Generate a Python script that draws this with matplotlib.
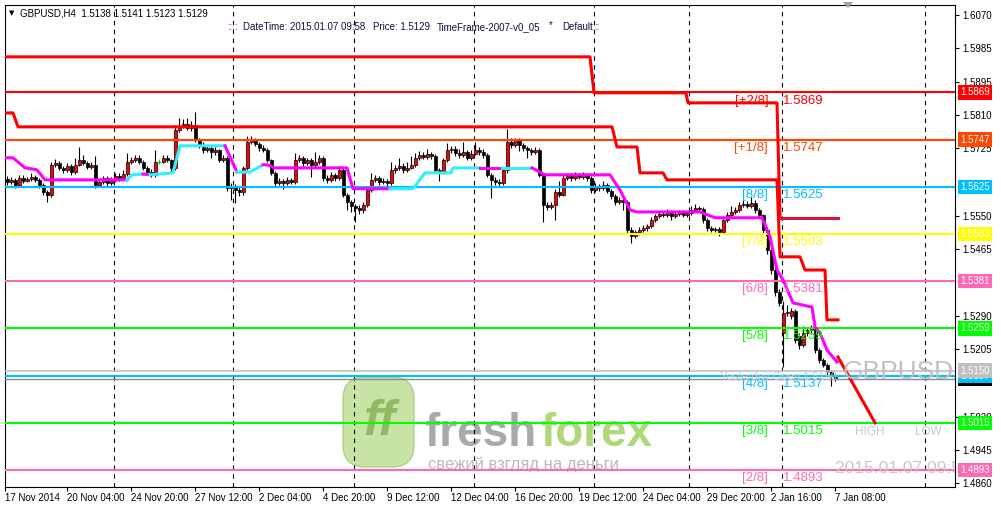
import numpy as np
import matplotlib.pyplot as plt
from matplotlib.patches import FancyBboxPatch, Polygon
from matplotlib.transforms import IdentityTransform

plt.rcParams['font.family'] = ['Liberation Sans', 'DejaVu Sans']

W, H = 1001, 507

# GBPUSD H4 candles, 17 Nov 2014 .. 7 Jan 2015 08:00
opens = [
    1.5645, 1.5638, 1.5643, 1.5630, 1.5648, 1.5640, 1.5645, 1.5651, 1.5643, 1.5630,
    1.5612, 1.5604, 1.5682, 1.5687, 1.5674, 1.5669, 1.5679, 1.5663, 1.5682, 1.5694,
    1.5687, 1.5676, 1.5682, 1.5630, 1.5638, 1.5648, 1.5635, 1.5643, 1.5653, 1.5648,
    1.5658, 1.5689, 1.5694, 1.5700, 1.5689, 1.5674, 1.5663, 1.5656, 1.5690, 1.5690,
    1.5700, 1.5694, 1.5674, 1.5772, 1.5782, 1.5788, 1.5777, 1.5785, 1.5746, 1.5733,
    1.5720, 1.5725, 1.5715, 1.5720, 1.5694, 1.5700, 1.5622, 1.5627, 1.5617, 1.5612,
    1.5674, 1.5741, 1.5746, 1.5736, 1.5725, 1.5720, 1.5694, 1.5661, 1.5635, 1.5640,
    1.5635, 1.5643, 1.5638, 1.5694, 1.5700, 1.5687, 1.5694, 1.5682, 1.5689, 1.5700,
    1.5648, 1.5643, 1.5656, 1.5648, 1.5669, 1.5604, 1.5586, 1.5576, 1.5570, 1.5565,
    1.5578, 1.5617, 1.5643, 1.5648, 1.5638, 1.5640, 1.5635, 1.5669, 1.5674, 1.5679,
    1.5669, 1.5674, 1.5682, 1.5700, 1.5707, 1.5702, 1.5710, 1.5705, 1.5669, 1.5663,
    1.5694, 1.5720, 1.5723, 1.5712, 1.5707, 1.5715, 1.5700, 1.5710, 1.5720, 1.5715,
    1.5707, 1.5656, 1.5643, 1.5638, 1.5635, 1.5669, 1.5741, 1.5733, 1.5746, 1.5733,
    1.5725, 1.5720, 1.5715, 1.5720, 1.5656, 1.5578, 1.5573, 1.5578, 1.5612, 1.5604,
    1.5648, 1.5653, 1.5648, 1.5656, 1.5651, 1.5658, 1.5648, 1.5617, 1.5627, 1.5622,
    1.5630, 1.5614, 1.5601, 1.5586, 1.5591, 1.5586, 1.5514, 1.5498, 1.5508, 1.5514,
    1.5519, 1.5524, 1.5539, 1.5550, 1.5555, 1.5552, 1.5557, 1.5550, 1.5555, 1.5560,
    1.5552, 1.5557, 1.5565, 1.5570, 1.5568, 1.5539, 1.5519, 1.5514, 1.5516, 1.5508,
    1.5539, 1.5552, 1.5560, 1.5565, 1.5578, 1.5581, 1.5576, 1.5583, 1.5565, 1.5552,
    1.5514, 1.5462, 1.5410, 1.5353, 1.5247, 1.5299, 1.5290, 1.5303, 1.5240, 1.5216,
    1.5247, 1.5255, 1.5260, 1.5203, 1.5177, 1.5165, 1.5146, 1.5138,
]
highs = [
    1.5652, 1.5650, 1.5648, 1.5656, 1.5655, 1.5651, 1.5660, 1.5656, 1.5647, 1.5634,
    1.5616, 1.5690, 1.5697, 1.5692, 1.5680, 1.5686, 1.5684, 1.5700, 1.5728, 1.5706,
    1.5692, 1.5690, 1.5705, 1.5645, 1.5654, 1.5652, 1.5650, 1.5660, 1.5662, 1.5668,
    1.5712, 1.5702, 1.5708, 1.5706, 1.5694, 1.5680, 1.5670, 1.5720, 1.5697, 1.5708,
    1.5706, 1.5698, 1.5785, 1.5803, 1.5800, 1.5803, 1.5795, 1.5818, 1.5752, 1.5740,
    1.5732, 1.5730, 1.5728, 1.5724, 1.5708, 1.5705, 1.5635, 1.5632, 1.5625, 1.5680,
    1.5757, 1.5757, 1.5752, 1.5740, 1.5732, 1.5726, 1.5698, 1.5666, 1.5648, 1.5645,
    1.5650, 1.5648, 1.5712, 1.5708, 1.5705, 1.5700, 1.5699, 1.5714, 1.5708, 1.5704,
    1.5655, 1.5664, 1.5660, 1.5678, 1.5674, 1.5608, 1.5590, 1.5580, 1.5578, 1.5585,
    1.5625, 1.5660, 1.5656, 1.5653, 1.5648, 1.5646, 1.5690, 1.5682, 1.5700, 1.5686,
    1.5690, 1.5705, 1.5712, 1.5718, 1.5714, 1.5722, 1.5715, 1.5710, 1.5674, 1.5700,
    1.5738, 1.5730, 1.5730, 1.5722, 1.5740, 1.5720, 1.5720, 1.5740, 1.5728, 1.5722,
    1.5712, 1.5660, 1.5650, 1.5645, 1.5675, 1.5775, 1.5752, 1.5752, 1.5750, 1.5738,
    1.5730, 1.5726, 1.5728, 1.5725, 1.5660, 1.5585, 1.5586, 1.5620, 1.5640, 1.5656,
    1.5660, 1.5660, 1.5664, 1.5660, 1.5664, 1.5662, 1.5652, 1.5635, 1.5632, 1.5640,
    1.5636, 1.5620, 1.5606, 1.5598, 1.5595, 1.5590, 1.5520, 1.5514, 1.5520, 1.5526,
    1.5530, 1.5546, 1.5556, 1.5562, 1.5560, 1.5568, 1.5562, 1.5562, 1.5566, 1.5565,
    1.5563, 1.5575, 1.5580, 1.5576, 1.5572, 1.5545, 1.5524, 1.5522, 1.5520, 1.5545,
    1.5560, 1.5575, 1.5572, 1.5586, 1.5596, 1.5588, 1.5598, 1.5592, 1.5570, 1.5556,
    1.5520, 1.5468, 1.5416, 1.5360, 1.5330, 1.5320, 1.5312, 1.5310, 1.5248, 1.5266,
    1.5262, 1.5268, 1.5266, 1.5208, 1.5182, 1.5170, 1.5152, 1.5141,
]
lows = [
    1.5630, 1.5633, 1.5622, 1.5625, 1.5636, 1.5637, 1.5641, 1.5638, 1.5622, 1.5605,
    1.5586, 1.5598, 1.5675, 1.5668, 1.5660, 1.5664, 1.5655, 1.5658, 1.5678, 1.5681,
    1.5670, 1.5671, 1.5622, 1.5624, 1.5633, 1.5628, 1.5630, 1.5638, 1.5640, 1.5642,
    1.5652, 1.5684, 1.5688, 1.5683, 1.5668, 1.5656, 1.5650, 1.5650, 1.5683, 1.5686,
    1.5688, 1.5666, 1.5668, 1.5766, 1.5776, 1.5772, 1.5770, 1.5740, 1.5726, 1.5712,
    1.5714, 1.5700, 1.5708, 1.5688, 1.5690, 1.5615, 1.5590, 1.5583, 1.5600, 1.5605,
    1.5668, 1.5735, 1.5730, 1.5718, 1.5714, 1.5688, 1.5655, 1.5628, 1.5630, 1.5620,
    1.5630, 1.5632, 1.5633, 1.5688, 1.5680, 1.5682, 1.5650, 1.5676, 1.5684, 1.5640,
    1.5636, 1.5638, 1.5640, 1.5642, 1.5598, 1.5565, 1.5560, 1.5534, 1.5556, 1.5558,
    1.5572, 1.5612, 1.5638, 1.5630, 1.5632, 1.5628, 1.5630, 1.5662, 1.5668, 1.5662,
    1.5664, 1.5670, 1.5676, 1.5694, 1.5696, 1.5698, 1.5698, 1.5662, 1.5640, 1.5658,
    1.5690, 1.5712, 1.5705, 1.5700, 1.5702, 1.5694, 1.5695, 1.5706, 1.5708, 1.5700,
    1.5650, 1.5596, 1.5630, 1.5628, 1.5630, 1.5662, 1.5725, 1.5728, 1.5718, 1.5718,
    1.5700, 1.5708, 1.5710, 1.5650, 1.5534, 1.5566, 1.5568, 1.5540, 1.5598, 1.5600,
    1.5642, 1.5640, 1.5642, 1.5645, 1.5645, 1.5640, 1.5610, 1.5612, 1.5614, 1.5616,
    1.5608, 1.5594, 1.5578, 1.5580, 1.5565, 1.5506, 1.5480, 1.5492, 1.5500, 1.5508,
    1.5512, 1.5518, 1.5534, 1.5545, 1.5546, 1.5546, 1.5540, 1.5544, 1.5549, 1.5546,
    1.5546, 1.5552, 1.5560, 1.5560, 1.5532, 1.5512, 1.5508, 1.5508, 1.5498, 1.5502,
    1.5534, 1.5546, 1.5554, 1.5560, 1.5572, 1.5570, 1.5570, 1.5558, 1.5545, 1.5506,
    1.5452, 1.5400, 1.5344, 1.5318, 1.5159, 1.5290, 1.5282, 1.5222, 1.5206, 1.5210,
    1.5240, 1.5245, 1.5196, 1.5170, 1.5158, 1.5135, 1.5110, 1.5123,
]
closes = [
    1.5638, 1.5643, 1.5630, 1.5648, 1.5640, 1.5645, 1.5651, 1.5643, 1.5630, 1.5612,
    1.5604, 1.5682, 1.5687, 1.5674, 1.5669, 1.5679, 1.5663, 1.5682, 1.5694, 1.5687,
    1.5676, 1.5682, 1.5630, 1.5638, 1.5648, 1.5635, 1.5643, 1.5653, 1.5648, 1.5658,
    1.5689, 1.5694, 1.5700, 1.5689, 1.5674, 1.5663, 1.5656, 1.5690, 1.5690, 1.5700,
    1.5694, 1.5674, 1.5772, 1.5782, 1.5788, 1.5777, 1.5785, 1.5746, 1.5733, 1.5720,
    1.5725, 1.5715, 1.5720, 1.5694, 1.5700, 1.5622, 1.5627, 1.5617, 1.5612, 1.5674,
    1.5741, 1.5746, 1.5736, 1.5725, 1.5720, 1.5694, 1.5661, 1.5635, 1.5640, 1.5635,
    1.5643, 1.5638, 1.5694, 1.5700, 1.5687, 1.5694, 1.5682, 1.5689, 1.5700, 1.5648,
    1.5643, 1.5656, 1.5648, 1.5669, 1.5604, 1.5586, 1.5576, 1.5570, 1.5565, 1.5578,
    1.5617, 1.5643, 1.5648, 1.5638, 1.5640, 1.5635, 1.5669, 1.5674, 1.5679, 1.5669,
    1.5674, 1.5682, 1.5700, 1.5707, 1.5702, 1.5710, 1.5705, 1.5669, 1.5663, 1.5694,
    1.5720, 1.5723, 1.5712, 1.5707, 1.5715, 1.5700, 1.5710, 1.5720, 1.5715, 1.5707,
    1.5656, 1.5643, 1.5638, 1.5635, 1.5669, 1.5741, 1.5733, 1.5746, 1.5733, 1.5725,
    1.5720, 1.5715, 1.5720, 1.5656, 1.5578, 1.5573, 1.5578, 1.5612, 1.5604, 1.5648,
    1.5653, 1.5648, 1.5656, 1.5651, 1.5658, 1.5648, 1.5617, 1.5627, 1.5622, 1.5630,
    1.5614, 1.5601, 1.5586, 1.5591, 1.5586, 1.5514, 1.5498, 1.5508, 1.5514, 1.5519,
    1.5524, 1.5539, 1.5550, 1.5555, 1.5552, 1.5557, 1.5550, 1.5555, 1.5560, 1.5552,
    1.5557, 1.5565, 1.5570, 1.5568, 1.5539, 1.5519, 1.5514, 1.5516, 1.5508, 1.5539,
    1.5552, 1.5560, 1.5565, 1.5578, 1.5581, 1.5576, 1.5583, 1.5565, 1.5552, 1.5514,
    1.5462, 1.5410, 1.5353, 1.5325, 1.5299, 1.5301, 1.5303, 1.5230, 1.5216, 1.5247,
    1.5255, 1.5260, 1.5203, 1.5177, 1.5165, 1.5146, 1.5139, 1.5129,
]

# trend line (magenta falling / aqua rising), break points in bar index
trend_bars = [-0.5, 1.5, 4.5, 7.5, 9.5, 30, 31.25, 34, 35.75, 41.5, 43.25, 54.5, 57.5, 60.75,
              64, 65, 67, 85, 86.5, 95.75, 101.5, 104.5, 111, 111.5, 118.25, 123.75, 131.25,
              134.5, 150.75, 153.25, 155.75, 157.5, 173.25, 177, 188.75, 190.75, 192.5, 194,
              196.5, 201.25, 202, 203.25, 205, 207.5]
trend_vals = [1.5700, 1.5700, 1.5674, 1.5669, 1.5643, 1.5643, 1.5656, 1.5658, 1.5656, 1.5661,
              1.5731, 1.5731, 1.5663, 1.5663, 1.5682, 1.5682, 1.5674, 1.5674, 1.5620, 1.5620,
              1.5620, 1.5661, 1.5661, 1.5674, 1.5674, 1.5674, 1.5674, 1.5656, 1.5656, 1.5617,
              1.5565, 1.5560, 1.5560, 1.5545, 1.5545, 1.5496, 1.5410, 1.5385, 1.5325, 1.5314,
              1.5263, 1.5247, 1.5203, 1.5172]
trend_dir = "MMMMMCCMCCCMCCMMMMMCCCCCMC" + "M" * 17

# stepped channel lines
upper_bars = [-0.5, 145.75, 146.75, 169.75, 170.25, 192.5, 193.25]
upper_vals = [1.5961, 1.5961, 1.5868, 1.5868, 1.5842, 1.5842, 1.5544]
mid_bars = [193.25, 207.75]
mid_vals = [1.5544, 1.5544]
lower_bars = [-0.5, 1.5, 2.75, 151.25, 152.5, 157.5, 158.25, 164, 165, 192.5, 193.25,
              198.25, 199.5, 204.5, 205, 207.75]
lower_vals = [1.5816, 1.5816, 1.5780, 1.5780, 1.5728, 1.5728, 1.5661, 1.5661, 1.5643, 1.5643,
              1.5444, 1.5444, 1.5410, 1.5410, 1.5281, 1.5281]
proj_bars = [207.75, 217]
proj_vals = [1.5185, 1.5015]

# Murrey math levels
mm_labels = ['[+2/8]', '[+1/8]', '[8/8]', '[7/8]', '[6/8]', '[5/8]', '[4/8]', '[3/8]', '[2/8]']
mm_values = [1.5869, 1.5747, 1.5625, 1.5503, 1.5381, 1.5259, 1.5137, 1.5015, 1.4893]
mm_colors = ['#FF0000', '#FF4500', '#00BFFF', '#FFFF00', '#FF69B4', '#00FF00', '#00BFFF',
             '#00FF00', '#FF69B4']

yesterday_open = 1.5150
bid = 1.5129

# scale labels that are not hidden behind the level boxes
price_ticks = [1.6070, 1.5985, 1.5895, 1.5810, 1.5725, 1.5550, 1.5465,
               1.5290, 1.5205, 1.5030, 1.4945, 1.4860]
date_ticks = [-0.5, 15, 31, 47, 63, 79, 95, 111, 127, 143, 159, 175, 191, 207]
date_labels = ['17 Nov 2014', '20 Nov 04:00', '24 Nov 20:00', '27 Nov 12:00', '2 Dec 04:00',
               '4 Dec 20:00', '9 Dec 12:00', '12 Dec 04:00', '16 Dec 20:00', '19 Dec 12:00',
               '24 Dec 04:00', '29 Dec 20:00', '2 Jan 16:00', '7 Jan 08:00']
week_lines = [26.75, 56.5, 86.75, 116.75, 146.75, 170.5, 193.75, 229.5]

info_parts = ['DateTime: 2015.01.07 09:58', 'Price: 1.5129', 'TimeFrame-2007-v0_05', '*', 'Default']
info_x = [243, 373, 437, 549, 562]


fig = plt.figure(figsize=(W / 100, H / 100), dpi=100)
ax = fig.add_axes([5 / W, 20 / H, 950 / W, 482 / H])
ax.set_xlim(-0.5, 237)
ax.set_ylim(1.4849, 1.6095)
for s in ax.spines.values():
    s.set_color('black')
    s.set_linewidth(0.8)

# watermark logo (pixel coords, y from bottom)
px = IdentityTransform()
logo = FancyBboxPatch((343, H - 467), 71, 90, boxstyle='round,pad=0,rounding_size=22',
                      transform=px, fc='#9ccf5a', ec='#86b94a', lw=1, alpha=0.55, zorder=0.5)
ax.add_patch(logo)
ax.text(379, H - 422, 'ff', transform=px, fontsize=36, fontweight='bold', style='italic',
        color='#7aa84a', alpha=0.7, ha='center', va='center', zorder=0.6)
ax.text(424, H - 446, 'fresh', transform=px, fontsize=33, fontweight='bold',
        color='#8c8c8c', alpha=0.75, ha='left', va='baseline', zorder=0.6)
ax.text(540, H - 446, 'forex', transform=px, fontsize=33, fontweight='bold',
        color='#9ccf5a', alpha=0.8, ha='left', va='baseline', zorder=0.6)
ax.text(428, H - 464, 'свежий взгляд на деньги', transform=px, fontsize=12,
        color='#a8a8a8', alpha=0.8, ha='left', va='center', zorder=0.6)

# weekly separators
for b in week_lines:
    ax.axvline(b, color='black', lw=0.8, ls=(0, (4, 4)), zorder=1)

# candles
x = np.arange(len(closes))
o = np.array(opens)
c = np.array(closes)
hi = np.array(highs)
lo = np.array(lows)
up = c > o
dn = c < o
dj = c == o
ax.vlines(x[~dj], lo[~dj], hi[~dj], color='black', lw=0.8, zorder=3)
ax.bar(x[up], (c - o)[up], bottom=o[up], width=0.75, color='#FF0000', edgecolor='black',
       linewidth=0.5, zorder=3.5)
ax.bar(x[dn], (o - c)[dn], bottom=c[dn], width=0.75, color='black', edgecolor='black',
       linewidth=0.5, zorder=3.5)
ax.vlines(x[dj], lo[dj], hi[dj], color='#00DD00', lw=0.8, zorder=3)
ax.hlines(c[dj], x[dj] - 0.4, x[dj] + 0.4, color='#00DD00', lw=0.8, zorder=3)

# Murrey levels
for lab, v, col in zip(mm_labels, mm_values, mm_colors):
    ax.axhline(v, color=col, lw=1.5, zorder=4)
    ax.annotate(lab, (190.3, v), xytext=(0, -1.5), textcoords='offset points', ha='right',
                va='top', fontsize=9.5, color=col, zorder=6)
    ax.annotate(f'{v:.4f}', (194, v), xytext=(0, -1.5), textcoords='offset points',
                ha='left', va='top', fontsize=9.5, color=col, zorder=6)
ax.axhline(yesterday_open, color='#C0C0C0', lw=1.2, zorder=4)
ax.axhline(bid, color='#8a8a9a', lw=1.0, zorder=4)

# trend line split into rising / falling pieces
cols = {'M': '#FF00FF', 'C': '#33EEFF'}
start = 0
for k in range(1, len(trend_dir) + 1):
    if k == len(trend_dir) or trend_dir[k] != trend_dir[start]:
        ax.plot(trend_bars[start:k + 1], trend_vals[start:k + 1], color=cols[trend_dir[start]],
                lw=2.2, solid_joinstyle='round', zorder=5)
        start = k

ax.plot(upper_bars, upper_vals, color='#FF0000', lw=2.2, zorder=5)
ax.plot(mid_bars, mid_vals, color='#DC143C', lw=2.2, zorder=5)
ax.plot(lower_bars, lower_vals, color='#FF0000', lw=2.2, zorder=5)
ax.plot(proj_bars, proj_vals, color='#FF0000', lw=2.2, zorder=5)

# chart texts
ax.text(178.3, 1.5133, 'Yesterday Open 1.5150', fontsize=8, color='#C8C8C8', ha='left',
        va='center', zorder=6)
ax.text(209, 1.5146, 'GBPUSD', fontsize=19, color='#C0C0C0', ha='left', va='center', zorder=6)
ax.text(212, 1.4991, 'HIGH', fontsize=8.5, color='#C8C8C8', ha='left', va='center', zorder=6)
ax.text(227, 1.4991, 'LOW', fontsize=8.5, color='#C8C8C8', ha='left', va='center', zorder=6)
ax.text(207, 1.4898, '2015.01.07 09:58', fontsize=12.5, color='#C8C8C8', ha='left',
        va='center', zorder=6, clip_on=True)

# axes ticks
ax.yaxis.tick_right()
ax.set_yticks(price_ticks)
ax.set_yticklabels([f'{v:.4f}' for v in price_ticks])
ax.tick_params(axis='y', length=3, width=0.8, pad=2.5, labelsize=7, colors='black')
ax.set_xticks(date_ticks)
ax.set_xticklabels(date_labels)
ax.tick_params(axis='x', length=3, width=0.8, pad=1.5, labelsize=7)
for t in ax.get_xticklabels():
    t.set_ha('left')

# price boxes on the right scale
boxes = [(bid, 'black')] + list(zip(mm_values, mm_colors)) + [(yesterday_open, '#C0C0C0')]
for v, col in boxes:
    ax.annotate(f'{v:.4f}', xy=(1, v), xycoords=('axes fraction', 'data'), xytext=(3.5, 0),
                textcoords='offset points', ha='left', va='center', fontsize=7, color='white',
                bbox=dict(boxstyle='square,pad=0.22', fc=col, ec='none'),
                annotation_clip=False, zorder=10)

# header (common baselines)
fig.text(9 / W, 1 - 15.5 / H, '\u25bc', fontsize=5, family='DejaVu Sans', va='baseline', ha='left')
fig.text(20 / W, 1 - 16.5 / H, 'GBPUSD,H4  1.5138 1.5141 1.5123 1.5129', fontsize=7,
         va='baseline', ha='left')
fig.text(227 / W, 1 - 30.5 / H, '::::', fontsize=7, color='#990099', va='baseline', ha='left')
for part, xp in zip(info_parts, info_x):
    fig.text(xp / W, 1 - (28.5 if part == '*' else 30.5) / H, part, fontsize=7,
             color='#101040', va='baseline', ha='left')
fig.text(594 / W, 1 - 30.5 / H, '::', fontsize=7, color='#990099', va='baseline', ha='left')

# chart shift marker
fig.patches.append(Polygon([[843, H - 2], [853, H - 2], [848, H - 8]], closed=True,
                           transform=px, fc='#A0A0A0', ec='none'))

fig.savefig('out.png', dpi=100, facecolor='white')
